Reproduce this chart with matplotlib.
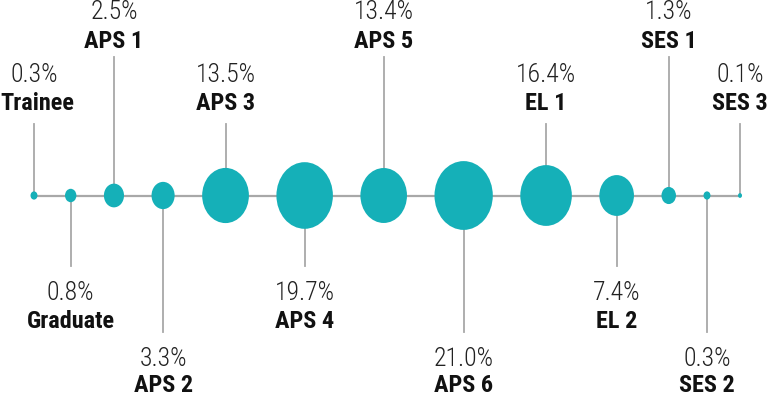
import numpy as np
import matplotlib
matplotlib.use("Agg")
import matplotlib.pyplot as plt
from matplotlib.patches import Ellipse

categories = ["Trainee", "Graduate", "APS 1", "APS 2", "APS 3", "APS 4", "APS 5",
              "APS 6", "EL 1", "EL 2", "SES 1", "SES 2", "SES 3"]
values = [0.3, 0.8, 2.5, 3.3, 13.5, 19.7, 13.4, 21.0, 16.4, 7.4, 1.3, 0.3, 0.1]
labels = ["0.3%", "0.8%", "2.5%", "3.3%", "13.5%", "19.7%", "13.4%", "21.0%",
          "16.4%", "7.4%", "1.3%", "0.3%", "0.1%"]
# label tier: 'uh' up-high, 'ul' up-low, 'dn' down-near, 'df' down-far
tiers = ["ul", "dn", "uh", "df", "ul", "dn", "uh", "df", "ul", "dn", "uh", "df", "ul"]

W, H = 768, 397
fig = plt.figure(figsize=(W / 100, H / 100), dpi=100)
ax = fig.add_axes([0, 0, 1, 1])
ax.set_xlim(0, W)
ax.set_ylim(H, 0)
ax.axis("off")

teal = "#15b0b8"
gray = "#a8a8a8"
fam = ["Roboto Condensed", "Barlow Semi Condensed", "Archivo Narrow", "DejaVu Sans"]

vals = np.array(values)
widths = 58.3 * np.sqrt(vals / vals.max())
heights = widths * 1.18
x0, x_end = 34.0, 740.0
gap = ((x_end - x0) - (widths.sum() - widths[0] / 2 - widths[-1] / 2)) / (len(vals) - 1)
xs = [x0]
for i in range(1, len(vals)):
    xs.append(xs[-1] + widths[i - 1] / 2 + gap + widths[i] / 2)
xs = np.array(xs)
yc = 195.5

ax.plot([xs[0], xs[-1]], [yc, yc], color=gray, lw=1.6, zorder=1, solid_capstyle="butt")

stem_end = {"uh": 57, "ul": 124, "dn": 266, "df": 332}
pct_base = {"uh": 19, "ul": 82, "dn": 300, "df": 366}
name_base = {"uh": 48, "ul": 110, "dn": 328, "df": 392}

for x, w, h, t, c, lab in zip(xs, widths, heights, tiers, categories, labels):
    ax.plot([x, x], [yc, stem_end[t]], color=gray, lw=1.3, zorder=1)
    ax.add_patch(Ellipse((x, yc), w, h, facecolor=teal, edgecolor="none", zorder=2))
    ax.text(x, pct_base[t], lab, ha="center", va="baseline", fontsize=18.5,
            family=fam, fontweight="light", color="#222222")
    ax.text(max(x, 37), name_base[t], c, ha="center", va="baseline", fontsize=17.5,
            family=fam, fontweight="bold", color="#111111")

fig.savefig("out.png", dpi=100, facecolor="white")
